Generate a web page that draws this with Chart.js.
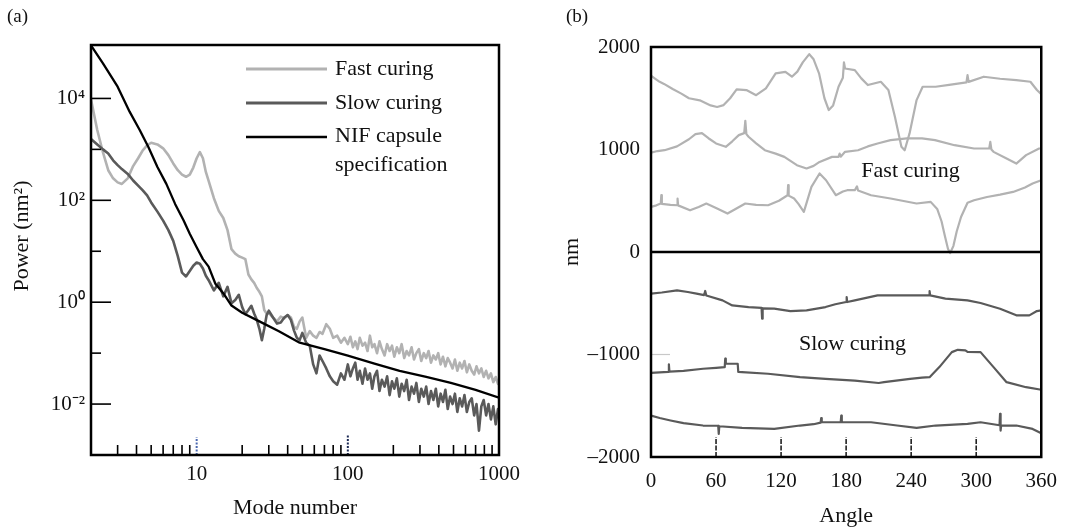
<!DOCTYPE html>
<html><head><meta charset="utf-8">
<script src="https://cdn.jsdelivr.net/npm/chart.js@4.4.1/dist/chart.umd.min.js"></script>
<style>
html,body{margin:0;padding:0;background:#fff;}
#wrap{position:relative;width:1069px;height:527px;background:#fff;}
canvas{position:absolute;left:0;top:0;}
</style></head><body>
<div id="wrap"><canvas id="ca" width="1069" height="527"></canvas><canvas id="cb" width="1069" height="527"></canvas></div>
<script>
// ---------- Panel (a) data ----------
const modeNumbers = [2,2.2,2.4,2.6,2.8,3,3.2,3.5,3.8,4.1,4.4,4.7,5,5.5,6,6.5,7,7.5,8,8.5,9,9.5,10,10.5,11,11.5,12,13,14,15,16,17,18,19,20,21,22,23,24,25,26,27,28,29,30,32,34,36,38,40,42,44,46,48,50,53,56,59,62,65,68,72,76,80,85,90,95,
  100,104,108,112,116,120,125,130,135,140,
  145,150,156,162,168,175,182,189,196,203,
  211,219,227,236,245,254,264,274,284,295,
  306,318,330,342,355,368,382,396,411,426,
  442,458,475,493,511,530,550,570,591,613,
  636,660,685,710,737,764,792,822,852,884,
  917,951,985,1000];
const fastPower = [9500,2400,870,390,270,225,210,270,470,670,960,1200,1350,1250,1050,770,530,390,320,290,320,440,670,880,670,360,240,110,62,45,26,11,9,8,7.5,7,3.5,2.8,2.4,1.9,1.6,1.3,0.7,0.6,0.62,0.5,0.42,0.52,0.48,0.56,0.5,0.33,0.3,0.42,0.5,0.2,0.27,0.22,0.2,0.26,0.24,0.37,0.3,0.2,0.22,0.16,0.2,
  0.15,0.21,0.13,0.17,0.12,0.2,0.14,0.16,0.11,0.22,
  0.13,0.15,0.1,0.17,0.12,0.09,0.15,0.11,0.14,0.085,
  0.13,0.1,0.15,0.08,0.11,0.09,0.13,0.075,0.1,0.12,
  0.07,0.1,0.08,0.11,0.065,0.09,0.075,0.1,0.06,0.085,
  0.055,0.08,0.065,0.05,0.075,0.045,0.065,0.05,0.07,0.042,
  0.06,0.045,0.038,0.055,0.04,0.05,0.034,0.045,0.032,0.04,
  0.027,0.034,0.025,0.028];
const slowPower = [1600,1250,1000,830,610,490,410,330,245,195,157,125,91,60,40,26,16,8,3.8,3.2,4.1,5.2,6,5.7,4.6,3.3,2.7,1.7,2.4,1.3,2.0,0.95,1.1,1.4,0.8,0.58,0.7,0.85,0.6,0.45,0.3,0.18,0.3,0.55,0.68,0.5,0.38,0.4,0.5,0.56,0.45,0.28,0.2,0.18,0.25,0.16,0.14,0.06,0.04,0.09,0.07,0.05,0.035,0.028,0.024,0.04,0.03,
  0.06,0.035,0.05,0.065,0.03,0.045,0.025,0.05,0.03,0.04,
  0.02,0.035,0.045,0.018,0.03,0.022,0.035,0.015,0.028,0.02,
  0.032,0.014,0.025,0.018,0.03,0.012,0.022,0.016,0.026,0.011,
  0.02,0.014,0.022,0.01,0.018,0.012,0.02,0.009,0.016,0.011,
  0.019,0.008,0.014,0.01,0.016,0.007,0.013,0.009,0.015,0.007,
  0.011,0.013,0.006,0.01,0.003,0.009,0.012,0.006,0.01,0.005,
  0.009,0.004,0.008,0.007];
const specModes = [2,2.4,3,3.6,4.2,4.8,5.5,6.3,7.2,8.2,9,10,11,12,13.3,15,17,20,26,35,48,70,100,150,220,330,480,700,1000];
const specPower = [1.1e5,4.9e4,1.7e4,5.5e3,2.4e3,1.1e3,450,210,85,40,22,12,7,5,2.3,1.5,0.86,0.62,0.42,0.27,0.16,0.12,0.089,0.062,0.045,0.034,0.026,0.019,0.0133];
const modeTickValues = [10,100,1000];
const modeMinorValues = [3,4,5,6,7,8,9,20,30,40,50,60,70,80,90,200,300,400,500,600,700,800,900];
const powerTickValues = [1e-2,1,1e2,1e4];
const powerMinorValues = [1e-1,1e1,1e3];
const legendLabels = ['Fast curing','Slow curing','NIF capsule','specification'];

// ---------- Panel (b) data ----------
const fast1Angle = [0,4,8,12,20,28,35,45,55,61,67,73,79,88,97,106,115,124,130,135,140,146,150,155,160,164,168,173,177,178,179,188,194,200,212,219,225,231,234,238.5,245,250.6,262.6,275,291,292,293,307,322,337,350,356,360];
const fast1Value = [1720,1690,1660,1640,1590,1545,1500,1480,1430,1415,1433,1500,1587,1580,1530,1597,1743,1758,1710,1760,1850,1930,1880,1743,1500,1385,1430,1612,1700,1850,1790,1775,1694,1629,1661,1580,1319,1026,993,1157,1482,1612,1612,1630,1655,1726,1660,1710,1690,1677,1661,1580,1540];
const fast2Angle = [0,6,12.5,24,35,41,47,53,60,69,75,81,86,87,88,90,97,105,115,123,134.6,143.5,150,155.5,167,173,174,175,179,191,200,209,221,236,250,262,280,298,312,313,314,316,328,337,346,358,360];
const fast2Value = [970,985,993,1030,1100,1150,1160,1110,1059,1026,1080,1140,1160,1280,1150,1124,1060,993,960,928,847,815,840,879,928,928,960,930,977,993,1030,1059,1091,1108,1108,1091,1042,1010,1010,1075,1000,977,912,863,945,1010,1010];
const fast3Angle = [0,5,9,9.5,10,18,24,24.5,25,36,44,51,60,70.6,78,87,97,108,118,126,126.5,127,132,136,141,148,155.5,161.5,170.5,177,181,188,190,191,203,221,245,258,264,268,271,274,276,279,282,286,292,298,310,322,334,345,352,360];
const fast3Value = [440,455,473,554,470,460,456,520,455,407,440,473,430,375,420,473,460,456,500,554,652,550,522,470,391,635,766,700,554,590,603,603,640,600,554,522,473,489,420,300,160,30,-10,60,200,342,480,505,537,560,586,630,668,700];
const slow1Angle = [0,10,24,34,42,49,50,51,66,75,90,102,102.5,103,113.7,128.6,143.5,161,170,180,180.5,181,188,209,233,256.5,257,257.5,271.6,292,304,322,337,349,356,360];
const slow1Value = [-406,-395,-374,-390,-406,-420,-380,-425,-472,-521,-537,-545,-651,-550,-553,-576,-570,-537,-510,-488,-440,-488,-472,-423,-423,-423,-381,-423,-455,-472,-498,-553,-618,-618,-576,-570];
const slow2Angle = [0,8,16,16.5,17,30,48,60,68,68.5,69,80,80.5,84,108,137.5,161,188,210,215,239,250,257,266,277.5,283,290,292,304,316,328,346,360];
const slow2Value = [-1180,-1175,-1170,-1095,-1168,-1160,-1139,-1130,-1123,-1040,-1090,-1090,-1170,-1172,-1188,-1221,-1237,-1254,-1278,-1270,-1237,-1225,-1221,-1123,-977,-954,-960,-975,-977,-1123,-1270,-1319,-1344];
const slow3Angle = [0,8,18,30,48,62,62.5,63,84,113.7,137.5,150,156.5,157,157.5,175,175.5,176,203,227,245,262.6,292,304,321.5,322,322.5,323,337,352,360];
const slow3Value = [-1595,-1620,-1644,-1670,-1693,-1695,-1774,-1700,-1716,-1726,-1693,-1680,-1665,-1620,-1661,-1661,-1595,-1661,-1661,-1693,-1716,-1693,-1677,-1661,-1690,-1579,-1742,-1693,-1693,-1726,-1768];
const angleTickValues = [0,60,120,180,240,300,360];
const angleMarkValues = [60,120,180,240,300];
const nmTickValues = [-2000,-1000,0,1000,2000];

// ---------- helpers ----------
const SERIF = '"Liberation Serif", "Times New Roman", serif';
const LIGHT = '#b2b2b2', DARK = '#5a5a5a';
const SUP = {'-':'\u207B','0':'\u2070','1':'\u00B9','2':'\u00B2','3':'\u00B3','4':'\u2074','5':'\u2075'};
const pts = (xs, ys) => xs.map((x, i) => ({x: x, y: ys[i]}));
function seg(ctx, x1, y1, x2, y2) { ctx.beginPath(); ctx.moveTo(x1, y1); ctx.lineTo(x2, y2); ctx.stroke(); }

const panelA = {
  id: 'panelA',
  afterDraw(chart) {
    const {ctx, chartArea: ca, scales: {x, y}} = chart;
    ctx.save();
    ctx.strokeStyle = '#000';
    ctx.lineWidth = 1.6;
    powerTickValues.forEach(v => { const p = y.getPixelForValue(v); seg(ctx, ca.left, p, ca.left + 20, p); });
    powerMinorValues.forEach(v => { const p = y.getPixelForValue(v); seg(ctx, ca.left, p, ca.left + 10, p); });
    modeMinorValues.forEach(v => { const p = x.getPixelForValue(v); seg(ctx, p, ca.bottom, p, ca.bottom - 10); });
    // dotted marks at 10 and 100
    ctx.setLineDash([2, 1.5]);
    ctx.lineWidth = 2;
    ctx.strokeStyle = '#4a68b0';
    let p10 = x.getPixelForValue(10); seg(ctx, p10, ca.bottom, p10, ca.bottom - 18);
    ctx.strokeStyle = '#1c2a55';
    let p100 = x.getPixelForValue(100); seg(ctx, p100, ca.bottom, p100, ca.bottom - 20);
    ctx.setLineDash([]);
    // frame
    ctx.strokeStyle = '#000';
    ctx.lineWidth = 2.5;
    ctx.strokeRect(ca.left, ca.top, ca.width, ca.height);
    // legend
    const cols = [LIGHT, DARK, '#000'];
    const ly = [69, 103, 137];
    cols.forEach((c, i) => { ctx.strokeStyle = c; ctx.lineWidth = i === 2 ? 2.4 : 2.8; seg(ctx, 246, ly[i], 327, ly[i]); });
    ctx.fillStyle = '#111';
    ctx.font = '22px ' + SERIF;
    ctx.textAlign = 'left'; ctx.textBaseline = 'middle';
    ctx.fillText(legendLabels[0], 335, 69);
    ctx.fillText(legendLabels[1], 335, 103);
    ctx.fillText(legendLabels[2], 335, 136);
    ctx.fillText(legendLabels[3], 335, 165);
    // panel tag
    ctx.font = '19px ' + SERIF;
    ctx.fillText('(a)', 7, 17);
    // y title
    ctx.font = '22px ' + SERIF;
    ctx.translate(22, 236);
    ctx.rotate(-Math.PI / 2);
    ctx.textAlign = 'center';
    ctx.fillText('Power (nm\u00B2)', 0, 0);
    ctx.restore();
  }
};

const panelB = {
  id: 'panelB',
  afterDraw(chart) {
    const {ctx, chartArea: ca, scales: {x, y}} = chart;
    ctx.save();
    // zero line
    ctx.strokeStyle = '#000';
    ctx.lineWidth = 2.5;
    const y0 = y.getPixelForValue(0);
    seg(ctx, ca.left, y0, ca.right, y0);
    // bottom marks
    ctx.lineWidth = 1.6;
    ctx.strokeStyle = '#222';
    ctx.setLineDash([5, 1.5]);
    angleMarkValues.forEach(v => { const p = x.getPixelForValue(v); seg(ctx, p, ca.bottom, p, ca.bottom - 20); });
    ctx.setLineDash([]);
    // small grey mark at -1000
    ctx.strokeStyle = '#c8c8c8'; ctx.lineWidth = 1.2;
    const ym = y.getPixelForValue(-1000);
    seg(ctx, ca.left, ym, ca.left + 19, ym);
    // frame
    ctx.strokeStyle = '#000';
    ctx.lineWidth = 2.5;
    ctx.strokeRect(ca.left, ca.top, ca.width, ca.height);
    // annotations
    ctx.fillStyle = '#111';
    ctx.font = '22px ' + SERIF;
    ctx.textAlign = 'center'; ctx.textBaseline = 'middle';
    ctx.fillText('Fast curing', x.getPixelForValue(239.4), y.getPixelForValue(790));
    ctx.fillText('Slow curing', x.getPixelForValue(185.8), y.getPixelForValue(-900));
    ctx.textAlign = 'left';
    ctx.font = '19px ' + SERIF;
    ctx.fillText('(b)', 566, 17);
    ctx.restore();
  }
};

const common = {
  responsive: false, animation: false, events: [],
  elements: {point: {radius: 0}, line: {tension: 0, borderJoinStyle: 'round', borderCapStyle: 'round'}},
  plugins: {legend: {display: false}, tooltip: {enabled: false}}
};

new Chart(document.getElementById('ca'), {
  type: 'line',
  data: {datasets: [
    {label: 'Fast curing', data: pts(modeNumbers, fastPower), borderColor: LIGHT, borderWidth: 2.6, order: 2},
    {label: 'Slow curing', data: pts(modeNumbers, slowPower), borderColor: DARK, borderWidth: 2.6, order: 1},
    {label: 'NIF capsule specification', data: pts(specModes, specPower), borderColor: '#000', borderWidth: 2.3, order: 0}
  ]},
  options: Object.assign({}, common, {
    layout: {padding: {left: 0, top: 45, right: 570, bottom: 0}},
    scales: {
      x: {type: 'logarithmic', min: 2, max: 1000,
          grid: {display: false, drawTicks: false}, border: {display: false},
          afterBuildTicks(s) { s.ticks = modeTickValues.map(v => ({value: v})); },
          afterFit(s) { s.height = 72; },
          ticks: {autoSkip: false, maxRotation: 0, minRotation: 0, padding: 7, color: '#111',
                  font: {family: SERIF, size: 21}, callback: v => String(v)},
          title: {display: true, text: 'Mode number', color: '#111',
                  font: {family: SERIF, size: 22, lineHeight: 1}, padding: {top: 0, bottom: 8}}},
      y: {type: 'logarithmic', min: 1e-3, max: 1.12e5,
          grid: {display: false, drawTicks: false}, border: {display: false},
          afterBuildTicks(s) { s.ticks = powerTickValues.map(v => ({value: v})); },
          afterFit(s) { s.width = 91; },
          ticks: {autoSkip: false, padding: 6, color: '#111', font: {family: SERIF, size: 21},
                  callback: v => '10' + String(Math.round(Math.log10(v))).split('').map(c => SUP[c]).join('')}}
    }
  }),
  plugins: [panelA]
});

new Chart(document.getElementById('cb'), {
  type: 'line',
  data: {datasets: [
    {data: pts(fast1Angle, fast1Value), borderColor: LIGHT, borderWidth: 2.2},
    {data: pts(fast2Angle, fast2Value), borderColor: LIGHT, borderWidth: 2.2},
    {data: pts(fast3Angle, fast3Value), borderColor: LIGHT, borderWidth: 2.2},
    {data: pts(slow1Angle, slow1Value), borderColor: DARK, borderWidth: 2.2},
    {data: pts(slow2Angle, slow2Value), borderColor: DARK, borderWidth: 2.2},
    {data: pts(slow3Angle, slow3Value), borderColor: DARK, borderWidth: 2.2}
  ]},
  options: Object.assign({}, common, {
    layout: {padding: {left: 540, top: 47, right: 15, bottom: 0}},
    scales: {
      x: {type: 'linear', min: 0, max: 360,
          grid: {display: false, drawTicks: false}, border: {display: false},
          afterBuildTicks(s) { s.ticks = angleTickValues.map(v => ({value: v})); },
          afterFit(s) { s.height = 70; },
          ticks: {autoSkip: false, maxRotation: 0, minRotation: 0, padding: 12, color: '#111',
                  font: {family: SERIF, size: 21}, callback: v => String(v)},
          title: {display: true, text: 'Angle', color: '#111',
                  font: {family: SERIF, size: 22, lineHeight: 1}, padding: {top: 0, bottom: 0}}},
      y: {type: 'linear', min: -2000, max: 2000,
          grid: {display: false, drawTicks: false}, border: {display: false},
          afterBuildTicks(s) { s.ticks = nmTickValues.map(v => ({value: v})); },
          afterFit(s) { s.width = 111; },
          ticks: {autoSkip: false, padding: 11, color: '#111', font: {family: SERIF, size: 21},
                  callback: v => v < 0 ? '\u2013' + Math.abs(v) : String(v)},
          title: {display: true, text: 'nm', color: '#111',
                  font: {family: SERIF, size: 22, lineHeight: 1}, padding: {top: 21, bottom: 0}}}
    }
  }),
  plugins: [panelB]
});
</script>
</body></html>
